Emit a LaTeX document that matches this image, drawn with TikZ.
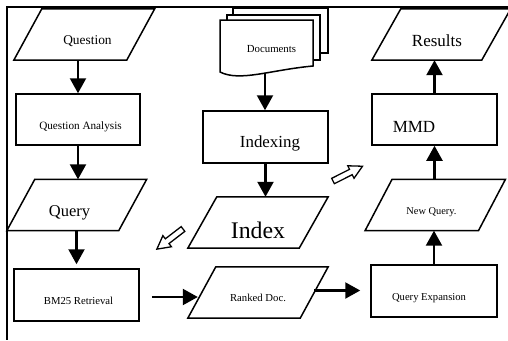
\documentclass[tikz,border=0pt]{standalone}
\usepackage{fontspec}
\setmainfont{Liberation Serif}
\usetikzlibrary{arrows.meta}
\newcommand\drawpara[2]{\draw[shp] ([xshift=#2]#1.north west) -- ([xshift=#2]#1.north east) -- ([xshift=-#2]#1.south east) -- ([xshift=-#2]#1.south west) -- cycle;}
\begin{document}
\begin{tikzpicture}[x=1pt,y=-1pt,
  shp/.style={draw, line width=1.5pt, fill=white, line join=miter},
  boxn/.style={shp, inner sep=0pt, minimum width=#1, minimum height=51},
  hid/.style={inner sep=0pt, minimum height=51, minimum width=#1},
  arr/.style={line width=2.2pt, -{Triangle[length=15pt,width=16pt]}},
  hol/.style={draw, line width=1.3pt, fill=white, line join=miter},
  frm/.style={line width=1.6pt},
  fs/.style={inner sep=0pt, font=\fontsize{#1}{#1}\selectfont}]
\useasboundingbox (0,0) rectangle (508,340);
% frame
\coordinate (c0) at (7,7);
\coordinate (c1) at (508,7);
\coordinate (c2) at (7,340);
\draw[frm] (c1) -- (c0) -- (c2);
% hidden parallelogram bodies
\node[hid=112.5] (q) at (84.25,34.5) {};
\node[hid=111.5] (qy) at (76.75,205) {};
\node[hid=111] (ix) at (258,222.5) {};
\node[hid=112] (rd) at (258,292.5) {};
\node[hid=113] (nq) at (435.25,205) {};
\node[hid=109.5] (res) at (441.25,34.5) {};
% boxes
\node[boxn=124] (qa) at (78,119.5) {};
\node[boxn=125,minimum height=52] (bm) at (76.5,295) {};
\node[boxn=125,minimum height=52] (idx) at (265.5,137) {};
\node[boxn=125] (mmd) at (434.5,119.5) {};
\node[boxn=126,minimum height=52] (qe) at (434,291) {};
% parallelograms
\drawpara{q}{14pt}
\drawpara{qy}{14pt}
\drawpara{ix}{14.5pt}
\drawpara{rd}{14pt}
\drawpara{nq}{13.5pt}
\drawpara{res}{14.5pt}
% documents
\coordinate (docb) at (265,74);
\draw[arr] (docb) -- (docb |- idx.north);
\draw[shp] (233,53) -- (233,8) -- (328,8) -- (328,53) -- cycle;
\draw[shp] (227,60) -- (227,15) -- (320,15) -- (320,60) -- cycle;
\draw[shp] (220,72) -- (220,20) -- (313,20) -- (313,66) .. controls (270,70) and (240,82) .. (220,72) -- cycle;
% texts
\node[fs=13.4] (qt) at (87.5,41) {Question};
\node[fs=11.2] (qat) at (80.5,127) {Question Analysis};
\node[fs=16.5] (qyt) at (69.5,213) {Query};
\node[fs=10.7] (bmt) at (78.5,301) {BM25 Retrieval};
\node[fs=10.7] (rdt) at (258,298) {Ranked Doc.};
\node[fs=10.6] (qet) at (429,298) {Query Expansion};
\node[fs=10.4] (nqt) at (431.5,212) {New Query.};
\node[fs=17] (mmdt) at (414,127) {MMD};
\node[fs=17] (rest) at (437,41) {Results};
\node[fs=10.8] (doct) at (271.5,49) {Documents};
\node[fs=16.9] (idxt) at (270,143) {Indexing};
\node[fs=23.8] (ixt) at (258,230) {Index};
% arrows
\draw[arr] (q.south -| qa.north) -- (qa.north);
\draw[arr] (qa.south) -- (qa.south |- qy.north);
\draw[arr, shorten >=4pt] (qy.south -| bm.north) -- (bm.north);
\draw[arr, shorten <=12pt, shorten >=4pt] ([yshift=-2pt]bm.east) -- ([yshift=-2pt]bm.east -| rd.west);
\draw[arr, shorten >=10pt] ([yshift=2pt]rd.east) -- ([yshift=2pt]rd.east -| qe.west);
\draw[arr] (qe.north) -- (qe.north |- nq.south);
\draw[arr] (nq.north -| mmd.south) -- (mmd.south);
\draw[arr] (mmd.north) -- (mmd.north |- res.south);
\draw[arr] (idx.south) -- (idx.south |- ix.north);
% hollow arrows
\begin{scope}[shift={(183,229)}, rotate=217.6]
\draw[hol] (0,-3) -- (20,-3) -- (20,-7) -- (33,0) -- (20,7) -- (20,3) -- (0,3) -- cycle;
\end{scope}
\begin{scope}[shift={(333,181)}, rotate=26.6]
\draw[hol] (0,-3) -- (20,-3) -- (20,-7) -- (33,0) -- (20,7) -- (20,3) -- (0,3) -- cycle;
\end{scope}
\end{tikzpicture}
\end{document}
